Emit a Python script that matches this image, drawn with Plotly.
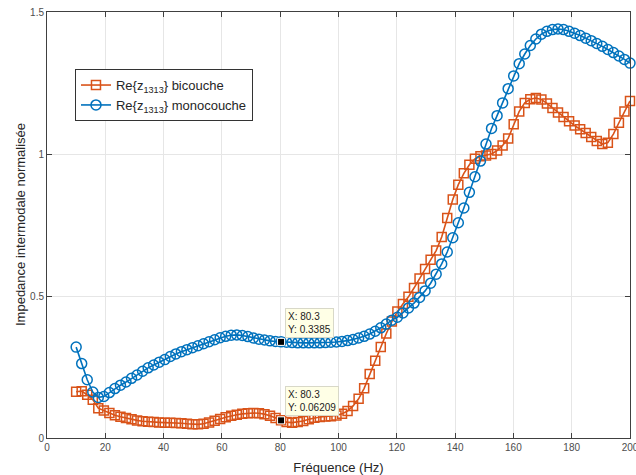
import plotly.graph_objects as go

# ---- data ----
freq = [round(10 + 1.9 * i, 1) for i in range(101)]

re_bicouche = [
    0.163, 0.165, 0.152, 0.135, 0.105, 0.097, 0.088, 0.080, 0.075, 0.070,
    0.066, 0.062, 0.059, 0.057, 0.056, 0.055, 0.054, 0.054, 0.053, 0.052,
    0.050, 0.048, 0.048, 0.050, 0.055, 0.061, 0.067, 0.073, 0.078, 0.082,
    0.085, 0.087, 0.088, 0.087, 0.084, 0.078, 0.070, 0.06209, 0.056, 0.054,
    0.056, 0.060, 0.066, 0.071, 0.074, 0.076, 0.077, 0.079, 0.085, 0.095,
    0.113, 0.138, 0.175, 0.225, 0.272, 0.320, 0.368, 0.410, 0.445, 0.472,
    0.497, 0.528, 0.562, 0.595, 0.628, 0.660, 0.708, 0.775, 0.840, 0.892,
    0.932, 0.962, 0.983, 0.992, 0.995, 1.000, 1.012, 1.030, 1.055, 1.105,
    1.150, 1.180, 1.193, 1.197, 1.192, 1.178, 1.162, 1.146, 1.130, 1.115,
    1.100, 1.087, 1.074, 1.060, 1.046, 1.035, 1.040, 1.070, 1.110, 1.150,
    1.187,
]

re_monocouche = [
    0.320, 0.262, 0.205, 0.162, 0.143, 0.146, 0.160, 0.174, 0.186, 0.197,
    0.210, 0.222, 0.235, 0.247, 0.257, 0.267, 0.276, 0.287, 0.296, 0.304,
    0.311, 0.318, 0.325, 0.332, 0.339, 0.346, 0.353, 0.358, 0.362, 0.363,
    0.361, 0.357, 0.352, 0.348, 0.345, 0.342, 0.340, 0.3385, 0.337, 0.336,
    0.335, 0.335, 0.335, 0.335, 0.335, 0.336, 0.337, 0.338, 0.340, 0.343,
    0.347, 0.352, 0.358, 0.366, 0.376, 0.388, 0.401, 0.415, 0.425, 0.440,
    0.458, 0.475, 0.495, 0.518, 0.545, 0.577, 0.613, 0.655, 0.705, 0.758,
    0.810, 0.865, 0.920, 0.975, 1.035, 1.090, 1.135, 1.180, 1.230, 1.275,
    1.318, 1.352, 1.382, 1.405, 1.422, 1.432, 1.438, 1.440, 1.438, 1.432,
    1.425, 1.417, 1.408, 1.399, 1.389, 1.379, 1.368, 1.357, 1.345, 1.333,
    1.320,
]

datatip_x = [80.3, 80.3]
datatip_y = [0.3385, 0.06209]
datatip_text = ["X: 80.3<br>Y: 0.3385", "X: 80.3<br>Y: 0.06209"]

x_ticks = [0, 20, 40, 60, 80, 100, 120, 140, 160, 180, 200]
y_ticks = [0, 0.5, 1, 1.5]
y_ticktext = ["0", "0.5", "1", "1.5"]

x_title = "Fréquence (Hz)"
y_title = "Impedance intermodale normalisée"
name_bi = "Re{z<sub>1313</sub>} bicouche"
name_mono = "Re{z<sub>1313</sub>} monocouche"

ORANGE = "#D95319"
BLUE = "#0072BD"
FONT = "Liberation Sans, Arial, Helvetica, sans-serif"

fig = go.Figure()
fig.add_trace(go.Scatter(
    x=freq, y=re_bicouche, mode="lines+markers", name=name_bi,
    line=dict(color=ORANGE, width=1.6),
    marker=dict(symbol="square-open", size=9, color=ORANGE,
                line=dict(color=ORANGE, width=1.5)),
    cliponaxis=False,
))
fig.add_trace(go.Scatter(
    x=freq, y=re_monocouche, mode="lines+markers", name=name_mono,
    line=dict(color=BLUE, width=1.6),
    marker=dict(symbol="circle-open", size=10, color=BLUE,
                line=dict(color=BLUE, width=1.5)),
    cliponaxis=False,
))
fig.add_trace(go.Scatter(
    x=datatip_x, y=datatip_y, mode="markers", showlegend=False,
    marker=dict(symbol="square", size=7, color="black",
                line=dict(color="white", width=1)),
    hoverinfo="skip",
))

for xv, yv, txt in zip(datatip_x, datatip_y, datatip_text):
    fig.add_annotation(
        x=xv, y=yv, xref="x", yref="y", text=txt, showarrow=False,
        xanchor="left", yanchor="bottom", xshift=4, yshift=4,
        align="left", bgcolor="#FFFFE6", bordercolor="#D8D8C8",
        borderwidth=1, borderpad=2,
        font=dict(family=FONT, size=10, color="#222222"),
    )

# y-axis title placed as a rotated annotation
fig.add_annotation(
    x=-0.0463, y=0.5, xref="paper", yref="paper", text=y_title,
    showarrow=False, textangle=-90, xanchor="center", yanchor="middle",
    font=dict(family=FONT, size=13, color="#262626"),
)

axis_common = dict(
    showgrid=True, gridcolor="#E6E6E6", gridwidth=1,
    showline=True, linecolor="#404040", linewidth=1, mirror="allticks",
    ticks="inside", ticklen=5, tickcolor="#404040", tickwidth=1,
    zeroline=False, automargin=False,
    tickfont=dict(family=FONT, size=10, color="#4D4D4D"),
)

fig.update_xaxes(
    range=[0, 200], tickvals=x_ticks, ticklabeloverflow="allow", **axis_common,
    title=dict(text=x_title,
               font=dict(family=FONT, size=13, color="#262626")),
)
fig.update_yaxes(
    range=[0, 1.5], tickvals=y_ticks, ticktext=y_ticktext,
    ticklabeloverflow="allow", **axis_common,
)

fig.update_layout(
    width=636, height=475,
    margin=dict(l=47, r=6, t=12, b=37),
    paper_bgcolor="white", plot_bgcolor="white",
    font=dict(family=FONT, color="#262626"),
    legend=dict(
        x=0.048, y=0.866, xanchor="left", yanchor="top",
        bgcolor="white", bordercolor="#333333", borderwidth=1,
        font=dict(family=FONT, size=13, color="#262626"),
        itemwidth=30, tracegroupgap=0,
    ),
    showlegend=True,
)

fig.write_html(
    "out.html",
    config={"displayModeBar": False},
    post_script="document.body.style.margin='0px';document.body.style.overflow='hidden';",
)
